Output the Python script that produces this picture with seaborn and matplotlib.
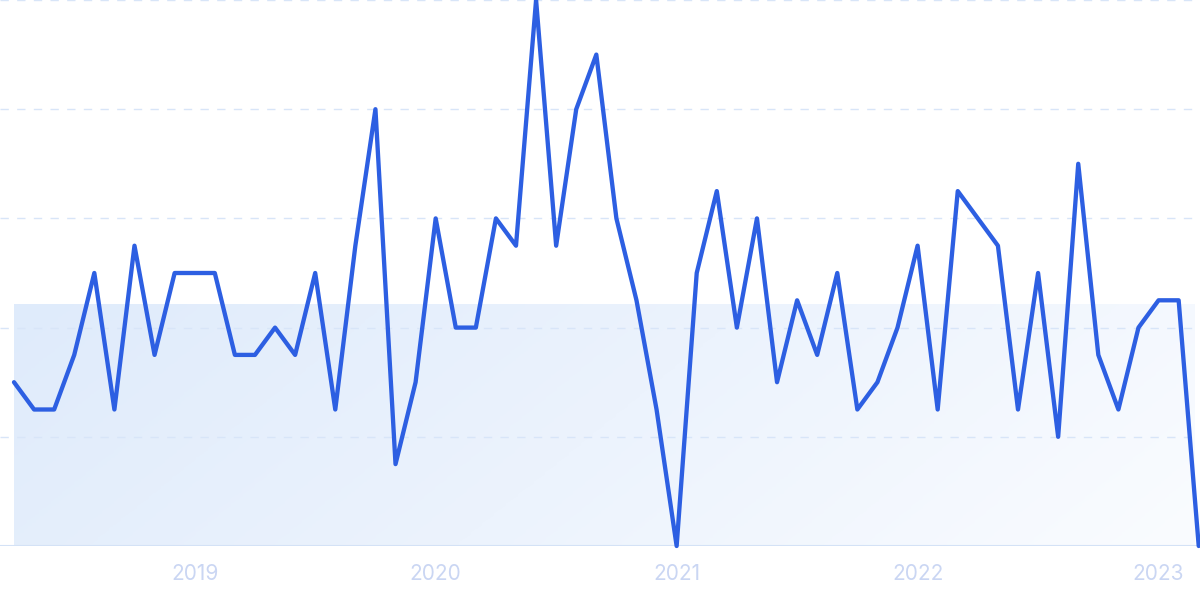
import numpy as np
import pandas as pd
import matplotlib
matplotlib.use("Agg")
import matplotlib.pyplot as plt
from matplotlib.colors import LinearSegmentedColormap
import seaborn as sns

# ---- data ----
months = pd.date_range("2018-04-01", "2023-03-01", freq="MS").strftime("%Y-%m").tolist()
values = [30, 25, 25, 35, 50, 25, 55, 35, 50, 50,
          50, 35, 35, 40, 35, 50, 25, 55, 80, 15,
          30, 60, 40, 40, 60, 55, 100, 55, 80, 90,
          60, 45, 25, 0, 50, 65, 40, 60, 30, 45,
          35, 50, 25, 30, 40, 55, 25, 65, 60, 55,
          25, 50, 20, 70, 35, 25, 40, 45, 45, 0]
band_level = 44.3
year_labels = ["2019", "2020", "2021", "2022", "2023"]

df = pd.DataFrame({"idx": np.arange(len(values)), "month": months, "value": values})
year_pos = [months.index(f"{y}-01") for y in year_labels]

sns.set_theme(style="white")
plt.rcParams["font.family"] = ["Inter", "DejaVu Sans"]

fig = plt.figure(figsize=(12, 5.99), dpi=100)
ax = fig.add_axes([0, 53 / 599, 1, 546 / 599])

step = 20.08
ax.set_xlim(-14 / step, (1200 - 14) / step)
ax.set_ylim(0, 100)

# gradient band
cmap = LinearSegmentedColormap.from_list("band", ["#dfebfb", "#ecf3fd", "#fafcff"])
gx, gy = np.meshgrid(np.linspace(0, 1, 300), np.linspace(0, 1, 100))
grad = 0.8 * gx + 0.2 * gy
ax.imshow(grad, cmap=cmap, extent=[0, (1195 - 14) / step, 0, band_level],
          origin="upper", aspect="auto", zorder=0, interpolation="bilinear")

# grid lines
for g in [20, 40, 60, 80, 100]:
    ax.axhline(g, color="#d8e5f8", lw=1.0, ls=(0, (6, 6)), zorder=1)
ax.axhline(0, color="#d4e2f6", lw=1.5, zorder=1)

sns.lineplot(data=df, x="idx", y="value", ax=ax, color="#2d5fe2", lw=3.1,
             zorder=3, clip_on=False)
for l in ax.lines:
    l.set_solid_joinstyle("round")
    l.set_solid_capstyle("round")

for s in ax.spines.values():
    s.set_visible(False)
ax.set_xticks(year_pos)
ax.set_xticklabels(year_labels, color="#cad6f3", fontsize=15)
ax.tick_params(axis="x", length=0, pad=13)
ax.set_yticks([])
ax.set_xlabel("")
ax.set_ylabel("")
ax.grid(False)

fig.savefig("out.png", dpi=100)
